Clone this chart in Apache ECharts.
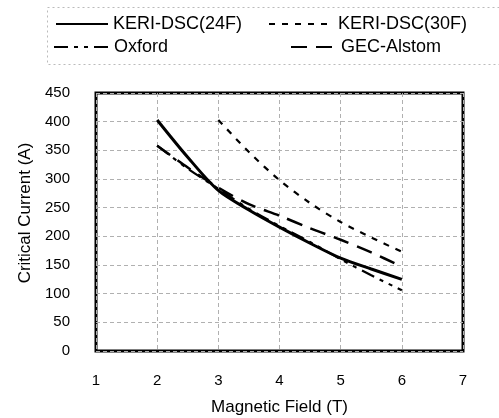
<!DOCTYPE html>
<html>
<head>
<meta charset="utf-8">
<script src="https://cdn.jsdelivr.net/npm/echarts@6/dist/echarts.min.js"></script>
<style>
html,body{margin:0;padding:0;background:#fff;}
#chart{width:499px;height:418px;}
</style>
</head>
<body>
<div id="chart"></div>
<script>
// Data
var fieldT = [2, 2.5, 3, 3.5, 4, 4.5, 5, 5.5, 6];
var keri24F = [403, 338, 280, 246, 216, 188, 162, 143, 125];
var keri30Fx = [3, 3.5, 4, 4.5, 5, 5.5, 6];
var keri30F = [403, 347, 298, 258, 225, 198, 173];
var oxford = [358, 318, 283, 248, 218, 190, 160, 132, 106];
var gecAlstom = [358, 320, 285, 256, 236, 214, 194, 172, 147];
var seriesNames = ['KERI-DSC(24F)', 'KERI-DSC(30F)', 'Oxford', 'GEC-Alstom'];
var xTicks = [1, 2, 3, 4, 5, 6, 7];
var yTicks = [0, 50, 100, 150, 200, 250, 300, 350, 400, 450];

function pairs(xs, ys) { return xs.map(function (x, i) { return [x, ys[i]]; }); }

var FONT = '"Liberation Sans", Arial, sans-serif';
var chart = echarts.init(document.getElementById('chart'), null, {renderer: 'canvas'});

function legendAt(name, left, top, w) {
  return {
    data: [name], left: left, top: top, orient: 'horizontal',
    itemWidth: w, itemHeight: 14, itemGap: 0, padding: 0,
    selectedMode: false,
    itemStyle: {opacity: 0, borderWidth: 0},
    textStyle: {fontFamily: FONT, fontSize: 18, color: '#000'}
  };
}

var option = {
  backgroundColor: '#fff',
  animation: false,
  graphic: [{
    type: 'rect', left: 45, top: 5, z: -1,
    shape: {width: 453, height: 57},
    style: {fill: 'none', stroke: '#bbb', lineWidth: 1, lineDash: [2, 3]}
  }],
  legend: [
    legendAt(seriesNames[0], 55, 15, 52),
    legendAt(seriesNames[1], 268, 15, 64),
    legendAt(seriesNames[2], 53, 38, 55),
    legendAt(seriesNames[3], 290, 38, 45)
  ],
  grid: {
    left: 96, right: 36, top: 93, bottom: 67,
    outerBoundsMode: 'none', containLabel: false,
    show: true, borderColor: '#000', borderWidth: 3, backgroundColor: 'transparent'
  },
  xAxis: {
    type: 'value', min: xTicks[0], max: xTicks[xTicks.length - 1], interval: 1,
    name: 'Magnetic Field (T)', nameLocation: 'middle', nameGap: 48,
    nameTextStyle: {fontFamily: FONT, fontSize: 17, color: '#000'},
    axisLine: {show: false}, axisTick: {show: false},
    axisLabel: {margin: 22, fontFamily: FONT, fontSize: 15, color: '#000'},
    splitLine: {show: true, lineStyle: {color: '#b0b0b0', width: 1, type: [4, 3]}}
  },
  yAxis: {
    type: 'value', min: yTicks[0], max: yTicks[yTicks.length - 1], interval: 50,
    name: 'Critical Current (A)', nameLocation: 'middle', nameGap: 55,
    nameTextStyle: {fontFamily: FONT, fontSize: 17, color: '#000', padding: [0, 0, 0, 18]},
    axisLine: {show: false}, axisTick: {show: false},
    axisLabel: {margin: 26, fontFamily: FONT, fontSize: 15, color: '#000'},
    splitLine: {show: true, lineStyle: {color: '#b0b0b0', width: 1, type: [4, 3]}}
  },
  series: [
    {name: seriesNames[0], type: 'line', data: pairs(fieldT, keri24F), symbol: 'none', smooth: 0.3,
     lineStyle: {color: '#000', width: 3, type: 'solid'}, itemStyle: {color: '#000'}},
    {name: seriesNames[1], type: 'line', data: pairs(keri30Fx, keri30F), symbol: 'none', smooth: 0.3,
     lineStyle: {color: '#000', width: 2.2, type: [6, 7]}, itemStyle: {color: '#000'}},
    {name: seriesNames[2], type: 'line', data: pairs(fieldT, oxford), symbol: 'none', smooth: 0.3,
     lineStyle: {color: '#000', width: 2.2, type: [14, 6, 4, 6, 4, 6]}, itemStyle: {color: '#000'}},
    {name: seriesNames[3], type: 'line', data: pairs(fieldT, gecAlstom), symbol: 'none', smooth: 0.3,
     lineStyle: {color: '#000', width: 2.5, type: [16, 9]}, itemStyle: {color: '#000'}}
  ]
};
chart.setOption(option);
</script>
</body>
</html>
